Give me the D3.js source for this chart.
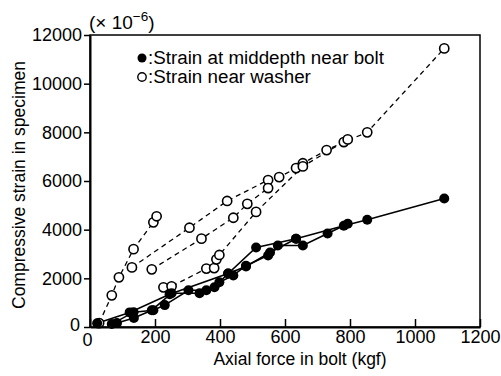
<!DOCTYPE html>
<html>
<head>
<meta charset="utf-8">
<script src="https://cdn.jsdelivr.net/npm/d3@7"></script>
<style>
  body { margin: 0; background: #fff; }
  svg text { font-family: "Liberation Sans", Arial, sans-serif; fill: #000; }
</style>
</head>
<body>
<div id="chart"></div>
<script>
// tick values
var xTicks = [0, 200, 400, 600, 800, 1000, 1200];
var yTicks = [0, 2000, 4000, 6000, 8000, 10000, 12000];

// strain near washer (open circles, dashed lines), [axial force kgf, strain x1e-6]
var washer1 = [[28, 160], [67, 1300], [89, 2040], [134, 3200], [195, 4300], [205, 4550]];
var washer2 = [[129, 2450], [306, 4080], [422, 5180], [548, 6040], [582, 6160], [634, 6530],
               [655, 6730], [728, 7270], [781, 7600], [853, 8000], [1090, 11450]];
var washer3 = [[190, 2370], [343, 3630], [441, 4490], [484, 5060], [548, 5710]];
var washer4 = [[226, 1630], [251, 1670], [358, 2400], [382, 2420], [389, 2780], [398, 2960],
               [511, 4730], [655, 6600], [793, 7710]];

// strain at middepth near bolt (filled circles, solid lines)
var bolt1 = [[22, 150], [122, 600], [245, 1350], [425, 2200], [511, 3270], [634, 3630],
             [781, 4160], [853, 4410], [1090, 5280]];
var bolt2 = [[67, 120], [134, 610], [195, 690], [230, 900], [303, 1510], [358, 1510],
             [398, 1840], [441, 2120], [480, 2520], [548, 2940], [578, 3350], [655, 3350],
             [731, 3840], [793, 4240]];
var bolt3 = [[83, 160], [135, 370], [190, 690], [251, 1390], [337, 1390], [383, 1630],
             [425, 2200], [480, 2490], [554, 3060], [634, 3630]];

var washerSeries = [washer1, washer2, washer3, washer4];
var boltSeries = [bolt1, bolt2, bolt3];

var W = 501, H = 376;
var margin = {top: 35, right: 21, bottom: 49, left: 90};
var width = W - margin.left - margin.right,
    height = H - margin.top - margin.bottom;

var svg = d3.select("#chart").append("svg")
    .attr("width", W)
    .attr("height", H);

var g = svg.append("g")
    .attr("transform", "translate(" + margin.left + "," + margin.top + ")");

var x = d3.scaleLinear().domain([0, 1200]).range([0, width]);
var y = d3.scaleLinear().domain([0, 12000]).range([height, 0]);

// frame
g.append("rect")
    .attr("width", width).attr("height", height)
    .attr("fill", "none").attr("stroke", "#000").attr("stroke-width", 1.5);

// x axis, ticks pointing in
var xAxis = g.append("g")
    .attr("transform", "translate(0," + height + ")")
    .call(d3.axisBottom(x).tickValues(xTicks).tickFormat(d3.format("d"))
        .tickSizeInner(-8).tickSizeOuter(0).tickPadding(3));
xAxis.select(".domain").attr("stroke-width", 2);
xAxis.selectAll(".tick line").attr("stroke-width", 1.5);
xAxis.selectAll("text").attr("font-size", "18px");

// y axis
var yAxis = g.append("g")
    .call(d3.axisLeft(y).tickValues(yTicks).tickFormat(d3.format("d"))
        .tickSizeInner(6).tickSizeOuter(0).tickPadding(2));
yAxis.select(".domain").attr("stroke-width", 2);
yAxis.selectAll(".tick line").attr("stroke-width", 1.5);
yAxis.selectAll("text").attr("font-size", "18px");

// the overlapping zeros at the origin
xAxis.selectAll(".tick").filter(function(d) { return d === 0; }).select("text")
    .attr("dx", "-3px").attr("dy", "0.9em");
yAxis.selectAll(".tick").filter(function(d) { return d === 0; }).select("text")
    .attr("dx", "-2px").attr("dy", "0.2em");

var line = d3.line()
    .x(function(d) { return x(d[0]); })
    .y(function(d) { return y(d[1]); });

// lines
g.selectAll(".wline").data(washerSeries).enter().append("path")
    .attr("class", "wline")
    .attr("d", line)
    .attr("fill", "none").attr("stroke", "#000")
    .attr("stroke-width", 1.3).attr("stroke-dasharray", "5,4");

g.selectAll(".bline").data(boltSeries).enter().append("path")
    .attr("class", "bline")
    .attr("d", line)
    .attr("fill", "none").attr("stroke", "#000").attr("stroke-width", 1.6);

// open circles
g.selectAll(".wpt").data(d3.merge(washerSeries)).enter().append("circle")
    .attr("class", "wpt")
    .attr("cx", function(d) { return x(d[0]); })
    .attr("cy", function(d) { return y(d[1]); })
    .attr("r", 4.6)
    .attr("fill", "#fff").attr("stroke", "#000").attr("stroke-width", 1.6);

// filled circles
g.selectAll(".bpt").data(d3.merge(boltSeries)).enter().append("circle")
    .attr("class", "bpt")
    .attr("cx", function(d) { return x(d[0]); })
    .attr("cy", function(d) { return y(d[1]); })
    .attr("r", 5)
    .attr("fill", "#000");

// legend
var leg = svg.append("g");
leg.append("circle").attr("cx", 142).attr("cy", 58).attr("r", 4.5).attr("fill", "#000");
leg.append("text").attr("x", 148).attr("y", 64).attr("font-size", "18.8px")
    .text(":Strain at middepth near bolt");
leg.append("circle").attr("cx", 142).attr("cy", 77).attr("r", 4.2)
    .attr("fill", "#fff").attr("stroke", "#000").attr("stroke-width", 1.4);
leg.append("text").attr("x", 148).attr("y", 83).attr("font-size", "18.8px")
    .text(":Strain near washer");

// unit label
var unit = svg.append("text").attr("x", 89).attr("y", 29).attr("font-size", "19px");
unit.append("tspan").text("(\u00d7 10");
unit.append("tspan").attr("dy", "-8").attr("font-size", "13.5px").text("\u22126");
unit.append("tspan").attr("dy", "8").text(")");

// axis titles
svg.append("text")
    .attr("x", 300).attr("y", 365)
    .attr("text-anchor", "middle").attr("font-size", "17.5px")
    .text("Axial force in bolt (kgf)");

svg.append("text")
    .attr("transform", "translate(25,185) rotate(-90)")
    .attr("text-anchor", "middle").attr("font-size", "17.5px")
    .text("Compressive strain in specimen");
</script>
</body>
</html>
